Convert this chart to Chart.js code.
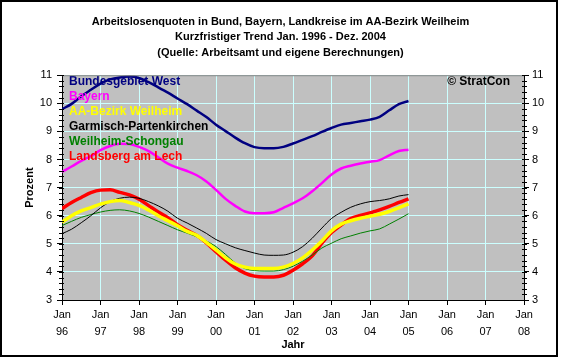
<!DOCTYPE html>
<html>
<head>
<meta charset="utf-8">
<script src="https://cdn.jsdelivr.net/npm/chart.js@4.4.1/dist/chart.umd.min.js"></script>
<style>
  body { margin: 0; background: #fff; }
  #wrap { width: 561px; height: 360px; }
</style>
</head>
<body>
<div id="wrap"><canvas id="quotenChart" width="561" height="360"></canvas></div>
<script>
// Quartalswerte (Jahr als Dezimalzahl)
const quartale = [
    1996.0, 1996.25, 1996.5, 1996.75, 1997.0, 1997.25, 1997.5, 1997.75,
    1998.0, 1998.25, 1998.5, 1998.75, 1999.0, 1999.25, 1999.5, 1999.75,
    2000.0, 2000.25, 2000.5, 2000.75, 2001.0, 2001.25, 2001.5, 2001.75,
    2002.0, 2002.25, 2002.5, 2002.75, 2003.0, 2003.25, 2003.5, 2003.75,
    2004.0, 2004.25, 2004.5, 2004.75, 2005.0
];

const bundWest = [9.79, 9.98, 10.25, 10.48, 10.70, 10.85, 10.92, 10.95,
    10.90, 10.75, 10.57, 10.38, 10.17, 9.97, 9.74, 9.51,
    9.24, 9.01, 8.78, 8.58, 8.44, 8.40, 8.40, 8.45,
    8.57, 8.70, 8.83, 8.98, 9.12, 9.24, 9.30, 9.36,
    9.42, 9.52, 9.75, 9.97, 10.08];

const bayern = [7.56, 7.75, 7.95, 8.12, 8.33, 8.48, 8.56, 8.55,
    8.45, 8.30, 8.08, 7.85, 7.71, 7.59, 7.44, 7.22,
    6.92, 6.60, 6.35, 6.15, 6.09, 6.09, 6.12, 6.28,
    6.44, 6.62, 6.87, 7.16, 7.47, 7.68, 7.78, 7.86,
    7.92, 7.98, 8.15, 8.30, 8.35];

const aaWeilheim = [5.77, 6.00, 6.17, 6.29, 6.41, 6.50, 6.54, 6.47,
    6.37, 6.20, 6.00, 5.82, 5.64, 5.44, 5.30, 5.05,
    4.78, 4.50, 4.28, 4.17, 4.12, 4.12, 4.12, 4.17,
    4.30, 4.50, 4.78, 5.10, 5.46, 5.70, 5.82, 5.91,
    5.98, 6.05, 6.15, 6.28, 6.42];

const garmisch = [5.36, 5.52, 5.75, 6.00, 6.28, 6.50, 6.62, 6.66,
    6.62, 6.50, 6.35, 6.16, 5.91, 5.74, 5.56, 5.37,
    5.15, 5.00, 4.86, 4.76, 4.67, 4.60, 4.59, 4.60,
    4.70, 4.90, 5.20, 5.56, 5.90, 6.12, 6.30, 6.42,
    6.50, 6.54, 6.60, 6.70, 6.75];

const weilheimSchongau = [5.65, 5.80, 5.94, 6.04, 6.13, 6.19, 6.21, 6.17,
    6.08, 5.95, 5.80, 5.65, 5.50, 5.38, 5.25, 5.10,
    4.90, 4.62, 4.32, 4.12, 4.05, 4.03, 4.03, 4.08,
    4.20, 4.38, 4.60, 4.85, 5.02, 5.18, 5.28, 5.38,
    5.46, 5.53, 5.70, 5.88, 6.07];

const landsberg = [6.25, 6.47, 6.65, 6.82, 6.91, 6.92, 6.83, 6.74,
    6.59, 6.36, 6.13, 5.93, 5.68, 5.48, 5.30, 5.03,
    4.72, 4.42, 4.15, 3.96, 3.85, 3.82, 3.82, 3.88,
    4.06, 4.29, 4.57, 5.02, 5.40, 5.67, 5.90, 6.01,
    6.10, 6.21, 6.33, 6.47, 6.60];

const titelZeilen = [
    'Arbeitslosenquoten in Bund, Bayern, Landkreise im AA-Bezirk Weilheim',
    'Kurzfristiger Trend Jan. 1996 - Dez. 2004',
    '(Quelle: Arbeitsamt und eigene Berechnungen)'
];

function punkte(werte) {
    return quartale.map((x, i) => ({ x: x, y: werte[i] }));
}

const fontName = '"Liberation Sans", Arial, sans-serif';

// Hintergrund, Rahmen, Plotfläche, Nebenstriche
const excelLook = {
    id: 'excelLook',
    beforeDraw(chart) {
        const { ctx, chartArea: a } = chart;
        ctx.save();
        ctx.fillStyle = '#ffffff';
        ctx.fillRect(0, 0, chart.width, chart.height);
        ctx.fillStyle = '#c0c0c0';
        ctx.fillRect(a.left, a.top, a.right - a.left, a.bottom - a.top);
        ctx.strokeStyle = '#000';
        ctx.lineWidth = 2;
        ctx.strokeRect(1, 1, 556, 355);
        ctx.restore();
    },
    afterDraw(chart) {
        const { ctx, chartArea: a } = chart;
        const y = chart.scales.y;
        ctx.save();
        ctx.strokeStyle = '#808080';
        ctx.lineWidth = 1;
        ctx.beginPath();
        ctx.moveTo(a.left, a.top + 0.5);
        ctx.lineTo(a.right, a.top + 0.5);
        ctx.stroke();
        // minor ticks
        ctx.strokeStyle = '#000';
        ctx.beginPath();
        for (let v = 3; v <= 11.001; v += 0.2) {
            const py = Math.round(y.getPixelForValue(v)) + 0.5;
            ctx.moveTo(a.left - 3, py);
            ctx.lineTo(a.left + 2, py);
            ctx.moveTo(a.right - 2, py);
            ctx.lineTo(a.right + 3, py);
        }
        ctx.stroke();
        ctx.restore();
    }
};

// Legende als farbiger Text im Diagramm
const textLegende = {
    id: 'textLegende',
    afterDatasetsDraw(chart) {
        const { ctx, chartArea: a } = chart;
        ctx.save();
        ctx.font = 'bold 12px ' + fontName;
        ctx.textBaseline = 'middle';
        ctx.textAlign = 'left';
        chart.data.datasets.forEach((ds, i) => {
            ctx.fillStyle = ds.borderColor;
            ctx.fillText(ds.label, a.left + 7, a.top + 6 + i * 15);
        });
        ctx.fillStyle = '#000';
        ctx.textAlign = 'right';
        ctx.fillText('\u00A9 StratCon', a.right - 14, a.top + 6);
        ctx.restore();
    }
};

const ctx = document.getElementById('quotenChart').getContext('2d');

window.quotenChart = new Chart(ctx, {
    type: 'line',
    data: {
        datasets: [
            { label: 'Bundesgebiet West', data: punkte(bundWest), borderColor: '#000080', borderWidth: 2.5 },
            { label: 'Bayern', data: punkte(bayern), borderColor: '#ff00ff', borderWidth: 2.5 },
            { label: 'AA-Bezirk Weilheim', data: punkte(aaWeilheim), borderColor: '#ffff00', borderWidth: 3.5 },
            { label: 'Garmisch-Partenkirchen', data: punkte(garmisch), borderColor: '#000000', borderWidth: 1 },
            { label: 'Weilheim-Schongau', data: punkte(weilheimSchongau), borderColor: '#008000', borderWidth: 1 },
            { label: 'Landsberg am Lech', data: punkte(landsberg), borderColor: '#ff0000', borderWidth: 3.5 }
        ]
    },
    options: {
        responsive: false,
        animation: false,
        elements: {
            point: { radius: 0 },
            line: { tension: 0.4, cubicInterpolationMode: 'monotone' }
        },
        layout: { padding: { left: 0, right: 0, top: 0, bottom: 0 } },
        plugins: {
            legend: { display: false },
            tooltip: { enabled: false },
            title: {
                display: true,
                text: titelZeilen,
                color: '#000',
                font: { family: fontName, size: 11, weight: 'bold', lineHeight: 1.4 },
                padding: { top: 14, bottom: 15 }
            }
        },
        scales: {
            x: {
                type: 'linear',
                min: 1996,
                max: 2008,
                afterFit: (scale) => { scale.height = 60; },
                ticks: {
                    stepSize: 1,
                    autoSkip: false,
                    maxRotation: 0,
                    padding: 2,
                    color: '#000',
                    font: { family: fontName, size: 11, lineHeight: 1.5 },
                    callback: (v) => ['Jan', String(v % 100).padStart(2, '0')]
                },
                grid: { color: '#ccffff', tickColor: '#000', tickLength: 5, lineWidth: 1 },
                border: { color: '#000', width: 1 },
                title: {
                    display: true,
                    text: 'Jahr',
                    color: '#000',
                    font: { family: fontName, size: 11, weight: 'bold', lineHeight: 1.2 },
                    padding: { top: 0, bottom: 8 }
                }
            },
            y: {
                position: 'left',
                min: 3,
                max: 11,
                afterFit: (scale) => { scale.width = 62; },
                ticks: {
                    stepSize: 1,
                    padding: 5,
                    color: '#000',
                    font: { family: fontName, size: 11 }
                },
                grid: { color: '#ccffff', tickColor: '#000', tickLength: 5 },
                border: { color: '#000', width: 1 },
                title: {
                    display: true,
                    text: 'Prozent',
                    color: '#000',
                    font: { family: fontName, size: 11, weight: 'bold', lineHeight: 1.2 },
                    padding: { top: 23, bottom: 0 }
                }
            },
            y2: {
                position: 'right',
                min: 3,
                max: 11,
                afterFit: (scale) => { scale.width = 37; },
                ticks: {
                    stepSize: 1,
                    padding: 3,
                    color: '#000',
                    font: { family: fontName, size: 11 }
                },
                grid: { drawOnChartArea: false, tickColor: '#000', tickLength: 5 },
                border: { color: '#000', width: 1 }
            }
        }
    },
    plugins: [excelLook, textLegende]
});
</script>
</body>
</html>
